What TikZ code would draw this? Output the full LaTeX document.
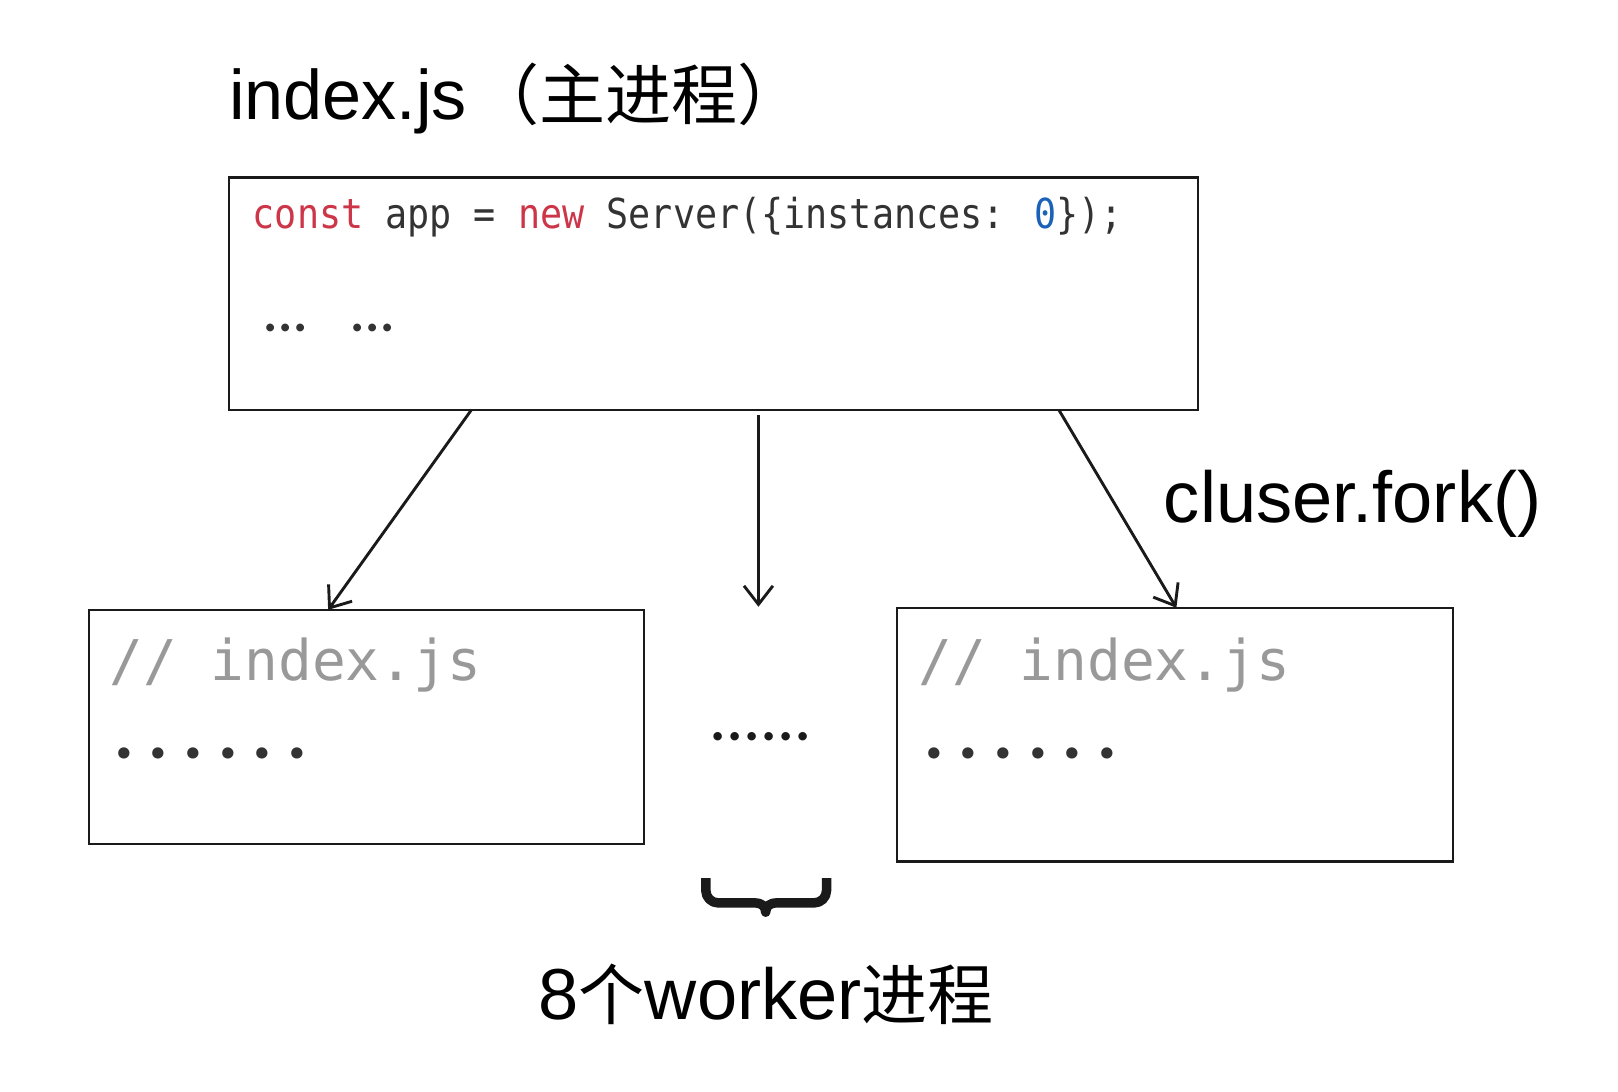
\documentclass[tikz,border=0pt]{standalone}
\usepackage{fontspec}
\setmainfont{Liberation Sans}
\newfontfamily\cjk{Noto Sans CJK SC}
\newfontfamily\codefont[FakeStretch=0.89]{DejaVu Sans Mono}
\newfontfamily\monofont{DejaVu Sans Mono}
\newfontfamily\dotfont{Lato}
\usetikzlibrary{calc,arrows.meta}
\definecolor{kwred}{HTML}{CC3648}
\definecolor{numblue}{HTML}{1A62B8}
\definecolor{codegray}{HTML}{333333}
\definecolor{cmtgray}{HTML}{999999}
\definecolor{linecol}{HTML}{1A1A1A}
\newcommand\dotcell[1]{\makebox[#1][c]{.}}
\tikzset{
  box/.style={draw=linecol, line width=1.1pt, inner sep=0pt, outer sep=0pt, anchor=north west},
  txt/.style={inner sep=0pt, outer sep=0pt, anchor=base west},
  conn/.style={draw=linecol, line width=1.4pt, -{Straight Barb[length=9pt,width=14pt,line width=1.4pt]}},
  bigtitle/.style={txt, font=\fontsize{34pt}{40pt}\selectfont},
  biglabel/.style={txt, font=\fontsize{35pt}{42pt}\selectfont},
  codeline/.style={txt, font=\codefont\fontsize{20pt}{24pt}\selectfont, text=codegray},
  cmt/.style={txt, font=\monofont\fontsize{27.2pt}{32pt}\selectfont, text=cmtgray},
  bigdots/.style={txt, font=\dotfont\bfseries\fontsize{36pt}{38pt}\selectfont, text=codegray},
  smalldots/.style={txt, font=\dotfont\bfseries\fontsize{25pt}{27pt}\selectfont, text=codegray},
}
\begin{document}
\begin{tikzpicture}[x=0.5pt,y=-0.5pt]
\useasboundingbox (0,0) rectangle (1568,1058);
\fill[white] (0,0) rectangle (1568,1058);

% title
\node[bigtitle] (title) at (222,116) {index.js\kern3pt{\cjk\fontsize{32pt}{36pt}\selectfont （主进程）}};

% main box
\node[box, minimum width=469.5pt, minimum height=112.5pt] (top) at (222,172) {};
\node[codeline] (code) at (245,221) {\textcolor{kwred}{const} app = \textcolor{kwred}{new} Server(\{instances: \textcolor{numblue}{0}\});};
\node[smalldots] (ell1) at (254.7,321) {\dotcell{7.25pt}\dotcell{7.25pt}\dotcell{7.25pt}};
\node[smalldots] (ell2) at (339.7,321) {\dotcell{7.25pt}\dotcell{7.25pt}\dotcell{7.25pt}};

% worker boxes
\node[box, minimum width=269pt, minimum height=113.5pt] (left) at (86,591) {};
\node[box, minimum width=269.5pt, minimum height=123pt] (right) at (869,589) {};
\node[cmt] (lc) at (106,659) {//~index.js};
\node[bigdots] (ld) at (103.2,735) {\dotcell{16.8pt}\dotcell{16.8pt}\dotcell{16.8pt}\dotcell{16.8pt}\dotcell{16.8pt}\dotcell{16.8pt}};
\node[cmt] (rc) at (890,659) {//~index.js};
\node[bigdots] (rd) at (888.2,735) {\dotcell{16.8pt}\dotcell{16.8pt}\dotcell{16.8pt}\dotcell{16.8pt}\dotcell{16.8pt}\dotcell{16.8pt}};

% middle dots
\node[inner sep=0pt, anchor=base, font=\dotfont\bfseries\fontsize{27pt}{28pt}\selectfont, text=linecol] (mid) at (737,718) {\dotcell{8.2pt}\dotcell{8.2pt}\dotcell{8.2pt}\dotcell{8.2pt}\dotcell{8.2pt}\dotcell{8.2pt}};

% connectors
\coordinate (mstart) at ($(top.south west)+(513,5)$);
\coordinate (mend) at (735,588);
\draw[conn] ($(top.south west)+(235,0)$) -- ($(left.north west)+(232,0)$);
\draw[conn] (mstart) -- (mend);
\draw[conn] ($(top.south west)+(804,0)$) -- ($(right.north west)+(271,0)$);

\node[biglabel] (fork) at (1128,506) {cluser.fork()};

% brace
\draw[linecol, line width=4.6pt, line cap=butt, line join=round]
  (684,851) -- (684,863) arc[start angle=180, end angle=90, radius=12] -- (731,875)
  .. controls (738,875) and (742,878) .. (742,884)
  .. controls (742,878) and (746,875) .. (753,875)
  -- (789,875) arc[start angle=90, end angle=0, radius=12] -- (801,851);

\node[biglabel] (lbl) at (522,988) {8{\cjk\fontsize{32pt}{36pt}\selectfont 个}worker{\cjk\fontsize{32pt}{36pt}\selectfont 进程}};
\end{tikzpicture}
\end{document}
